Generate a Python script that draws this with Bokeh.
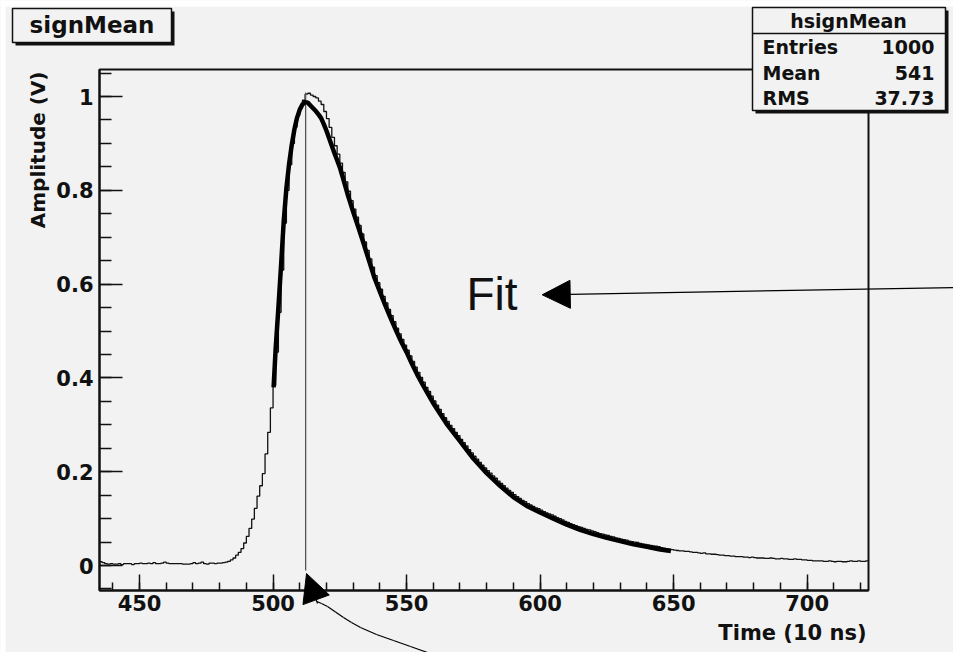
import math
from bokeh.plotting import figure
from bokeh.models import (FixedTicker, Label, BoxAnnotation, Arrow, NormalHead, Range1d)
from bokeh.embed import file_html
from bokeh.resources import INLINE

# ---------------- data ----------------
title_text = "signMean"
hist_name = "hsignMean"
stat_names = ["Entries", "Mean", "RMS"]
stat_values = ["1000", "541", "37.73"]

x_title = "Time (10 ns)"
y_title = "Amplitude (V)"

x_ticks = [450, 500, 550, 600, 650, 700]
x_tick_labels = ["450", "500", "550", "600", "650", "700"]
x_minor = [440, 450, 460, 470, 480, 490, 500, 510, 520, 530, 540, 550, 560, 570, 580,
           590, 600, 610, 620, 630, 640, 650, 660, 670, 680, 690, 700, 710, 720]
y_ticks = [0, 0.2, 0.4, 0.6, 0.8, 1.0]
y_tick_labels = ["0", "0.2", "0.4", "0.6", "0.8", "1"]
y_minor = [-0.05, 0.0, 0.05, 0.1, 0.15, 0.2, 0.25, 0.3, 0.35, 0.4, 0.45, 0.5, 0.55,
           0.6, 0.65, 0.7, 0.75, 0.8, 0.85, 0.9, 0.95, 1.0, 1.05]

# axis extent of the histogram frame
x_min, x_max = 435, 723
y_min, y_max = -0.0533, 1.0576

# histogram: one bin per time unit, first bin starts at 435
hist_first_edge = 435
hist_values = [
    0.008, 0.006, 0.004, 0.003, 0.004, 0.003, 0.003, 0.004, 0.002, 0.004,
    0.004, 0.004, 0.002, 0.004, 0.004, 0.005, 0.004, 0.004, 0.005, 0.004,
    0.006, 0.004, 0.004, 0.005, 0.007, 0.005, 0.004, 0.004, 0.004, 0.004,
    0.004, 0.003, 0.003, 0.003, 0.004, 0.006, 0.004, 0.005, 0.007, 0.004,
    0.003, 0.005, 0.005, 0.004, 0.005, 0.005, 0.006, 0.007, 0.009, 0.012,
    0.016, 0.022, 0.028, 0.036, 0.048, 0.062, 0.079, 0.099, 0.122, 0.148,
    0.170, 0.196, 0.238, 0.284, 0.336, 0.384, 0.455, 0.540, 0.630, 0.730,
    0.800, 0.855, 0.900, 0.935, 0.960, 0.978, 0.992, 1.005, 1.007, 1.003,
    1.000, 0.997, 0.990, 0.983, 0.968, 0.953, 0.934, 0.913, 0.895, 0.877,
    0.858, 0.838, 0.818, 0.798, 0.778, 0.760, 0.743, 0.725, 0.707, 0.690,
    0.672, 0.654, 0.636, 0.618, 0.603, 0.589, 0.574, 0.560, 0.546, 0.533,
    0.520, 0.506, 0.494, 0.482, 0.470, 0.459, 0.447, 0.435, 0.423, 0.412,
    0.401, 0.391, 0.380, 0.371, 0.361, 0.351, 0.342, 0.333, 0.324, 0.315,
    0.307, 0.299, 0.292, 0.284, 0.277, 0.269, 0.262, 0.255, 0.247, 0.240,
    0.233, 0.227, 0.220, 0.214, 0.208, 0.202, 0.197, 0.191, 0.186, 0.180,
    0.175, 0.170, 0.165, 0.160, 0.156, 0.151, 0.147, 0.143, 0.139, 0.136,
    0.132, 0.129, 0.126, 0.123, 0.121, 0.118, 0.115, 0.112, 0.110, 0.108,
    0.105, 0.102, 0.100, 0.097, 0.094, 0.092, 0.089, 0.087, 0.085, 0.083,
    0.081, 0.079, 0.077, 0.076, 0.074, 0.072, 0.070, 0.068, 0.067, 0.065,
    0.064, 0.062, 0.061, 0.059, 0.058, 0.056, 0.055, 0.054, 0.052, 0.051,
    0.050, 0.049, 0.047, 0.046, 0.045, 0.044, 0.043, 0.042, 0.041, 0.040,
    0.038, 0.037, 0.036, 0.035, 0.034, 0.033, 0.032, 0.031, 0.031, 0.030,
    0.030, 0.029, 0.028, 0.028, 0.027, 0.026, 0.027, 0.025, 0.025, 0.024,
    0.024, 0.023, 0.022, 0.022, 0.021, 0.021, 0.020, 0.020, 0.019, 0.019,
    0.019, 0.018, 0.018, 0.017, 0.018, 0.017, 0.016, 0.016, 0.016, 0.015,
    0.015, 0.016, 0.015, 0.014, 0.014, 0.015, 0.014, 0.014, 0.013, 0.013,
    0.014, 0.013, 0.013, 0.012, 0.012, 0.011, 0.011, 0.010, 0.010, 0.010,
    0.010, 0.009, 0.009, 0.010, 0.009, 0.008, 0.009, 0.009, 0.008, 0.008,
    0.009, 0.010, 0.009, 0.009, 0.010, 0.009, 0.009, 0.010,
]

fit_x = [500.2, 501, 502, 503, 504, 505, 506, 507, 508, 509, 510, 511, 512, 513, 514,
         515, 516, 517, 518, 519, 520, 521, 522, 523, 524, 525, 526, 527, 528, 529, 530,
         532, 534, 536, 538, 540, 542, 544, 546, 548, 550, 552, 554, 556, 558, 560,
         565, 570, 575, 580, 585, 590, 595, 600, 605, 610, 615, 620, 625, 630, 635,
         640, 645, 649]
fit_y = [0.380, 0.465, 0.550, 0.640, 0.735, 0.805, 0.856, 0.897, 0.930, 0.955,
         0.972, 0.983, 0.988, 0.987, 0.981, 0.975, 0.969, 0.962, 0.954, 0.941,
         0.927, 0.911, 0.895, 0.879, 0.864, 0.849, 0.830, 0.810, 0.790, 0.772,
         0.754,
         0.720, 0.685, 0.649, 0.613, 0.584, 0.555, 0.528, 0.502, 0.477, 0.455,
         0.430, 0.407, 0.386, 0.366, 0.346,
         0.302, 0.265, 0.228, 0.197, 0.170, 0.146, 0.127, 0.113, 0.100, 0.087,
         0.076, 0.067, 0.059, 0.052, 0.045, 0.040, 0.034, 0.031]

peak_time = 512.2
peak_line_bottom, peak_line_top = -0.0107, 1.0085

# ---------------- layout helpers ----------------
INK = "#111111"
BG = "#f2f2f2"
FONT = "DejaVu Sans"

W, H = 953, 652          # canvas size
OFF = 0                  # canvas offset on the page
FL, FT, FW, FH = 99, 69, 769, 521   # histogram frame, page pixels

sx = (x_max - x_min) / FW
sy = (y_max - y_min) / FH
xr0 = x_min - (FL - OFF) * sx
xr1 = xr0 + W * sx
yr1 = y_max + (FT - OFF) * sy
yr0 = yr1 - H * sy


def dx(px):
    return xr0 + (px - OFF) * sx


def dy(py):
    return yr1 - (py - OFF) * sy


p = figure(width=W, height=H, x_range=Range1d(xr0, xr1), y_range=Range1d(yr0, yr1),
           output_backend="svg", toolbar_location=None, title=None,
           min_border_left=0, min_border_right=0, min_border_top=0, min_border_bottom=0)

p.background_fill_color = BG
p.border_fill_color = BG
p.outline_line_color = None
p.xgrid.visible = False
p.ygrid.visible = False

# white page strip along the top and left edges
p.add_layout(BoxAnnotation(left=dx(0), right=dx(W), top=dy(0), bottom=dy(6),
                           fill_color="white", fill_alpha=1, line_alpha=0,
                           level="underlay"))
p.add_layout(BoxAnnotation(left=dx(0), right=dx(5), top=dy(0), bottom=dy(H),
                           fill_color="white", fill_alpha=1, line_alpha=0,
                           level="underlay"))

xa = p.xaxis[0]
xa.fixed_location = y_min
xa.bounds = (x_min, x_max)
xa.ticker = FixedTicker(ticks=x_ticks, minor_ticks=x_minor)
xa.major_label_overrides = {t: l for t, l in zip(x_ticks, x_tick_labels)}
xa.major_tick_in = 16
xa.major_tick_out = 0
xa.minor_tick_in = 8
xa.minor_tick_out = 0
xa.major_label_standoff = 4

ya = p.yaxis[0]
ya.fixed_location = x_min
ya.bounds = (y_min, y_max)
ya.ticker = FixedTicker(ticks=y_ticks, minor_ticks=y_minor)
ya.major_label_overrides = {t: l for t, l in zip(y_ticks, y_tick_labels)}
ya.major_tick_in = 23
ya.major_tick_out = 0
ya.minor_tick_in = 12
ya.minor_tick_out = 0
ya.major_label_standoff = 6

for ax in (xa, ya):
    ax.axis_line_color = INK
    ax.axis_line_width = 2
    ax.major_tick_line_color = INK
    ax.major_tick_line_width = 1.5
    ax.minor_tick_line_color = INK
    ax.minor_tick_line_width = 1.5
    ax.major_label_text_font = FONT
    ax.major_label_text_font_style = "bold"
    ax.major_label_text_font_size = "21px"
    ax.major_label_text_color = INK

# histogram frame (top / right edges)
p.add_layout(BoxAnnotation(left=x_min, right=x_max, bottom=y_min, top=y_max,
                           fill_alpha=0, line_color=INK, line_alpha=1, line_width=2,
                           level="underlay"))

# ---------------- data marks ----------------
edges = [hist_first_edge + i for i in range(len(hist_values) + 1)]
p.step(x=edges, y=hist_values + [hist_values[-1]], mode="after",
       line_color=INK, line_width=1.3)

p.segment(x0=[peak_time], y0=[peak_line_bottom], x1=[peak_time], y1=[peak_line_top],
          line_color="#555555", line_width=1.3)

p.line(fit_x, fit_y, line_color="black", line_width=4.5, line_join="round")

# ---------------- axis titles ----------------
p.add_layout(Label(x=dx(866), y=dy(632), text=x_title, text_align="right",
                   text_baseline="middle", text_font=FONT, text_font_style="bold",
                   text_font_size="21px", text_color=INK))
p.add_layout(Label(x=dx(37), y=dy(71), text=y_title, angle=math.pi / 2,
                   text_align="right", text_baseline="middle", text_font=FONT,
                   text_font_style="bold", text_font_size="20px", text_color=INK))

# ---------------- title box ----------------
p.add_layout(BoxAnnotation(left=dx(15), right=dx(174), top=dy(11), bottom=dy(45),
                           fill_color=INK, fill_alpha=1, line_alpha=0))
p.add_layout(BoxAnnotation(left=dx(12), right=dx(171), top=dy(8), bottom=dy(42),
                           fill_color=BG, fill_alpha=1, line_color=INK, line_alpha=1,
                           line_width=1.5))
p.add_layout(Label(x=dx(91.5), y=dy(24), text=title_text, text_align="center",
                   text_baseline="middle", text_font=FONT, text_font_style="bold",
                   text_font_size="23px", text_color=INK))

# ---------------- stats box ----------------
p.add_layout(BoxAnnotation(left=dx(755), right=dx(948), top=dy(10), bottom=dy(113),
                           fill_color=INK, fill_alpha=1, line_alpha=0))
p.add_layout(BoxAnnotation(left=dx(752), right=dx(945), top=dy(7), bottom=dy(110),
                           fill_color=BG, fill_alpha=1, line_color=INK, line_alpha=1,
                           line_width=1.5))
p.add_layout(Arrow(x_start=dx(752), y_start=dy(33), x_end=dx(945), y_end=dy(33),
                   end=None, line_color=INK, line_width=1.5))
p.add_layout(Label(x=dx(848), y=dy(20), text=hist_name, text_align="center",
                   text_baseline="middle", text_font=FONT, text_font_style="bold",
                   text_font_size="19px", text_color=INK))
row_y = [46.5, 72, 97.5]
for name, val, ry in zip(stat_names, stat_values, row_y):
    p.add_layout(Label(x=dx(762), y=dy(ry), text=name, text_align="left",
                       text_baseline="middle", text_font=FONT, text_font_style="bold",
                       text_font_size="19px", text_color=INK))
    p.add_layout(Label(x=dx(934), y=dy(ry), text=val, text_align="right",
                       text_baseline="middle", text_font=FONT, text_font_style="bold",
                       text_font_size="19px", text_color=INK))

# ---------------- hand-drawn annotations ----------------
p.add_layout(Arrow(x_start=dx(960), y_start=dy(287), x_end=dx(541.7), y_end=dy(294.3),
                   end=NormalHead(size=28, fill_color="black", line_color="black"),
                   line_color="black", line_width=1.3))
p.add_layout(Label(x=dx(466), y=dy(293), text="Fit", text_align="left",
                   text_baseline="middle", text_font="Liberation Sans",
                   text_font_size="46px", text_color=INK))

curve_px = [(316.5, 601), (321, 603), (327, 606), (335, 611.5), (343, 617), (351, 622),
            (360, 627), (376, 634), (393, 640), (410, 646), (427, 652)]
for (ax0, ay0), (ax1, ay1) in zip(curve_px[:-1], curve_px[1:]):
    p.add_layout(Arrow(x_start=dx(ax0), y_start=dy(ay0), x_end=dx(ax1), y_end=dy(ay1),
                       end=None, line_color="black", line_width=1.2))
p.add_layout(Arrow(x_start=dx(317), y_start=dy(603), x_end=dx(306), y_end=dy(573),
                   end=NormalHead(size=28, fill_color="black", line_color="black"),
                   line_color="black", line_width=1.2))

open("out.html", "w").write(file_html(p, INLINE))
